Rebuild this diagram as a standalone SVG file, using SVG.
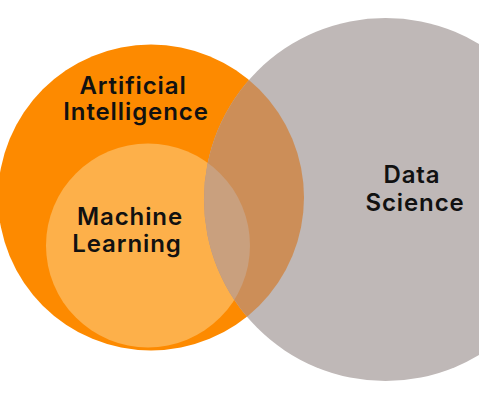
<svg xmlns="http://www.w3.org/2000/svg" width="479" height="400" viewBox="0 0 479 400">
<style>
.lbl{font-family:Inter,"Liberation Sans",sans-serif;font-weight:600;font-size:24px;letter-spacing:0.9px;fill:#111;text-anchor:middle}
</style>
<defs>
<clipPath id="cOuter"><circle cx="151" cy="197.5" r="153"/></clipPath>
<clipPath id="cInner"><circle cx="148" cy="245.5" r="102"/></clipPath>
</defs>
<rect width="479" height="400" fill="#fff"/>
<g id="ai"><circle cx="151" cy="197.5" r="153" fill="#FD8A00"/></g>
<g id="ml"><circle cx="148" cy="245.5" r="102" fill="#FDB04A"/></g>
<g id="ds">
<circle cx="385.5" cy="199.5" r="181.5" fill="#BFB8B7"/>
<circle cx="385.5" cy="199.5" r="181.5" fill="#CC8E58" clip-path="url(#cOuter)"/>
<circle cx="385.5" cy="199.5" r="181.5" fill="#C9A07E" clip-path="url(#cInner)"/>
</g>
<g id="labels">
<text class="lbl" x="133" y="94">Artificial</text>
<text class="lbl" x="136" y="120">Intelligence</text>
<text class="lbl" x="130" y="225">Machine</text>
<text class="lbl" x="127" y="252">Learning</text>
<text class="lbl" x="412" y="183">Data</text>
<text class="lbl" x="415" y="211">Science</text>
</g>
</svg>
